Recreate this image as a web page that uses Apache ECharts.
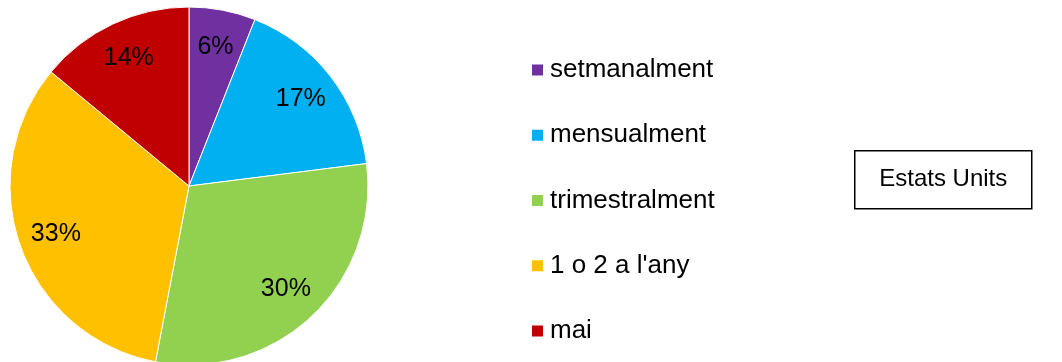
<!DOCTYPE html>
<html>
<head>
<meta charset="utf-8">
<script src="https://cdn.jsdelivr.net/npm/echarts@6/dist/echarts.min.js"></script>
<style>
  html, body { margin: 0; padding: 0; background: #fff; }
  #chart { width: 1062px; height: 362px; }
</style>
</head>
<body>
<div id="chart"></div>
<script>
// Freqüència (percentatge de respostes), Estats Units
const categories = ['setmanalment', 'mensualment', 'trimestralment', "1 o 2 a l'any", 'mai'];
const shares = [6, 17, 30, 33, 14];
const colors = ['#7030A0', '#00B0F0', '#92D050', '#FFC000', '#C00000'];
const boxTitle = 'Estats Units';

const FONT = '"Liberation Sans", Arial, sans-serif';

const pieData = categories.map((name, i) => ({
  name,
  value: shares[i],
  itemStyle: { color: colors[i] }
}));

const chart = echarts.init(document.getElementById('chart'), null, { renderer: 'canvas' });

chart.setOption({
  animation: false,
  backgroundColor: '#ffffff',
  legend: {
    orient: 'vertical',
    left: 530,
    top: 57,
    padding: 0,
    itemWidth: 13,
    itemHeight: 13,
    itemGap: 39.25,
    icon: 'rect',
    selectedMode: false,
    data: categories,
    textStyle: {
      fontFamily: FONT,
      fontSize: 26,
      color: '#000',
      lineHeight: 26,
      padding: [0, 0, 0, 1]
    }
  },
  graphic: [
    {
      type: 'group',
      left: 854,
      top: 150,
      children: [
        {
          type: 'rect',
          shape: { x: 0, y: 0, width: 177, height: 58 },
          style: { fill: '#fff', stroke: '#000', lineWidth: 1.5 }
        },
        {
          type: 'text',
          x: 88.5,
          y: 29,
          style: {
            text: boxTitle,
            fontFamily: FONT,
            fontSize: 24,
            fill: '#000',
            align: 'center',
            verticalAlign: 'middle'
          }
        }
      ]
    }
  ],
  series: [
    {
      type: 'pie',
      name: 'freq',
      center: [189, 186],
      radius: [0, 179],
      startAngle: 90,
      clockwise: true,
      silent: true,
      label: { show: false },
      labelLine: { show: false },
      itemStyle: { borderColor: '#ffffff', borderWidth: 1 },
      data: pieData
    },
    {
      // value labels placed on an outer band of the same pie
      type: 'pie',
      name: 'labels',
      center: [189, 186],
      radius: [98, 179],
      startAngle: 90,
      clockwise: true,
      silent: true,
      itemStyle: { color: 'rgba(0,0,0,0)', borderWidth: 0 },
      labelLine: { show: false },
      label: {
        show: true,
        position: 'inside',
        formatter: (p) => p.value + '%',
        fontFamily: FONT,
        fontSize: 25,
        color: '#000'
      },
      data: categories.map((name, i) => ({ name, value: shares[i] }))
    }
  ]
});
</script>
</body>
</html>
